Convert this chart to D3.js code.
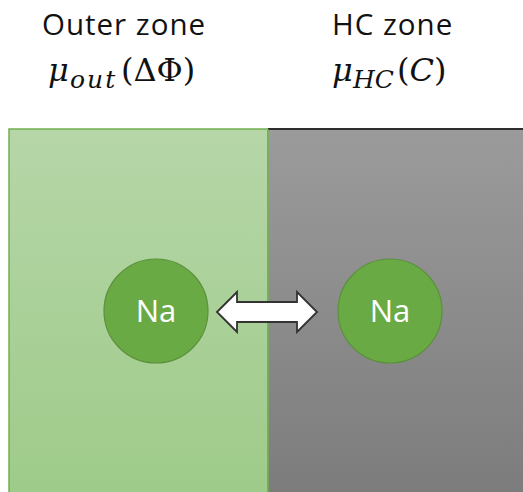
<!DOCTYPE html>
<html>
<head>
<meta charset="utf-8">
<script src="https://cdn.jsdelivr.net/npm/d3@7"></script>
<style>
  body { margin: 0; background: #fff; }
  svg { display: block; }
</style>
</head>
<body>
<div id="chart"></div>
<script>
// zones of the diagram, left to right
let zones = ['Outer zone', 'HC zone'];
// chemical potential of each zone: symbol, subscript, argument
let muSub = ['out', 'HC'];
let muArg = ['ΔΦ', 'C'];
let argItalic = [false, true];
let ionLabel = ['Na', 'Na'];

let width = 523,
  height = 492;

let zoneTop = 129;

let x = d3.scaleBand().domain(zones).range([9, 527]).padding(0);

const svg = d3
  .select('#chart')
  .append('svg')
  .attr('width', width)
  .attr('height', height);

// gradients for the two zones
let defs = svg.append('defs');
let grads = [
  ['gGreen', '#b6d6a8', '#9ecb89'],
  ['gGray', '#9b9b9b', '#7c7c7c'],
];
grads.forEach((g) => {
  let lg = defs
    .append('linearGradient')
    .attr('id', g[0])
    .attr('x1', 0)
    .attr('y1', 0)
    .attr('x2', 0)
    .attr('y2', 1);
  lg.append('stop').attr('offset', '0%').attr('stop-color', g[1]);
  lg.append('stop').attr('offset', '100%').attr('stop-color', g[2]);
});

// zone rectangles
svg
  .append('g')
  .selectAll('rect')
  .data(zones)
  .join('rect')
  .attr('x', (d) => x(d))
  .attr('y', zoneTop)
  .attr('width', x.bandwidth())
  .attr('height', height - zoneTop + 5)
  .attr('fill', (d, i) => (i === 0 ? 'url(#gGreen)' : 'url(#gGray)'))
  .attr('stroke', (d, i) => (i === 0 ? '#72b04f' : 'none'))
  .attr('stroke-width', 1.5);

// dark top edge of the HC zone
svg
  .append('line')
  .attr('x1', x(zones[1]))
  .attr('x2', width)
  .attr('y1', zoneTop)
  .attr('y2', zoneTop)
  .attr('stroke', '#2e2e2e')
  .attr('stroke-width', 2);

// green divider
svg
  .append('line')
  .attr('x1', x(zones[1]))
  .attr('x2', x(zones[1]))
  .attr('y1', zoneTop)
  .attr('y2', height)
  .attr('stroke', '#72b04f')
  .attr('stroke-width', 1.5);

// headings
let titleX = [42, 332];
svg
  .append('g')
  .selectAll('text')
  .data(zones)
  .join('text')
  .attr('x', (d, i) => titleX[i])
  .attr('y', 35)
  .attr('font-family', 'Open Sans, sans-serif')
  .attr('font-size', 29.5)
  .attr('letter-spacing', 1)
  .attr('fill', '#111')
  .text((d) => d);

// mu lines: [mu, subscript, '(arg)'] start x
let muPieceX = [
  [48, 70, 121],
  [332, 353, 397],
];
let subSpacing = [2, 0];
let muY = 81;
let mu = svg
  .append('g')
  .selectAll('text')
  .data(zones)
  .join('text')
  .attr('y', muY)
  .attr('font-family', 'DejaVu Serif, serif')
  .attr('font-size', 32)
  .attr('fill', '#111');
mu.append('tspan')
  .attr('x', (d, i) => muPieceX[i][0])
  .attr('font-style', 'italic')
  .text('μ');
mu.append('tspan')
  .attr('x', (d, i) => muPieceX[i][1])
  .attr('y', muY + 7)
  .attr('font-style', 'italic')
  .attr('font-size', 25)
  .attr('letter-spacing', (d, i) => subSpacing[i])
  .text((d, i) => muSub[i]);
let par = mu
  .append('tspan')
  .attr('x', (d, i) => muPieceX[i][2])
  .attr('y', muY);
par.append('tspan').text('(');
par
  .append('tspan')
  .attr('font-style', (d, i) => (argItalic[i] ? 'italic' : 'normal'))
  .text((d, i) => muArg[i]);
par.append('tspan').text(')');

// Na ions
let ionX = [156, 390];
let ionY = 311;
let ions = svg.append('g').selectAll('g').data(ionLabel).join('g');
ions
  .append('circle')
  .attr('cx', (d, i) => ionX[i])
  .attr('cy', ionY)
  .attr('r', 52)
  .attr('fill', '#6aaa44')
  .attr('stroke', '#5b913c')
  .attr('stroke-width', 1.2);
ions
  .append('text')
  .attr('x', (d, i) => ionX[i])
  .attr('y', ionY + 11)
  .attr('text-anchor', 'middle')
  .attr('font-family', 'Open Sans, sans-serif')
  .attr('font-size', 31)
  .attr('fill', '#fff')
  .text((d) => d);

// double arrow between the ions
let ax0 = 217,
  ax1 = 317,
  ay = 312,
  shaft = 10,
  head = 20,
  headLen = 20;
let arrowPts = [
  [ax0, ay],
  [ax0 + headLen, ay - head],
  [ax0 + headLen, ay - shaft],
  [ax1 - headLen, ay - shaft],
  [ax1 - headLen, ay - head],
  [ax1, ay],
  [ax1 - headLen, ay + head],
  [ax1 - headLen, ay + shaft],
  [ax0 + headLen, ay + shaft],
  [ax0 + headLen, ay + head],
];
svg
  .append('path')
  .attr('d', d3.line()(arrowPts) + 'Z')
  .attr('fill', '#fff')
  .attr('stroke', '#333')
  .attr('stroke-width', 1.8)
  .attr('stroke-linejoin', 'miter');
</script>
</body>
</html>
